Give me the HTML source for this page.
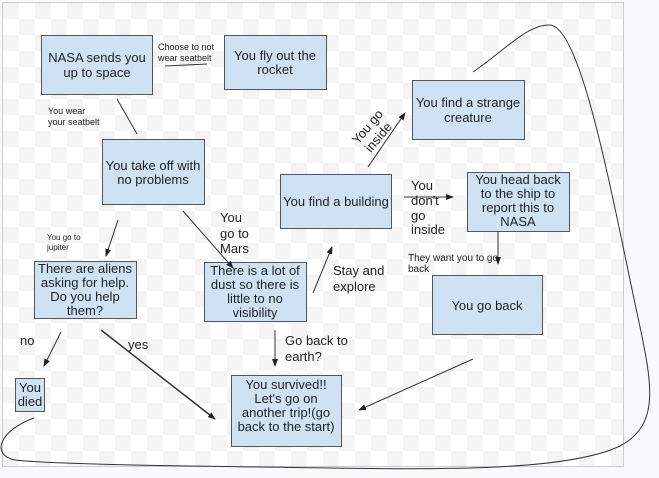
<!DOCTYPE html>
<html><head><meta charset="utf-8"><style>
html,body{margin:0;padding:0;background:#f8f9fa;}
svg{display:block;}
text{font-family:"Liberation Sans",sans-serif;fill:#222;}
</style></head><body>
<svg width="659" height="478" viewBox="0 0 659 478" xmlns="http://www.w3.org/2000/svg">
<defs>
<pattern id="ck" x="3" y="3" width="32" height="32" patternUnits="userSpaceOnUse">
<rect width="32" height="32" fill="#fff"/>
<rect width="16" height="16" fill="#f4f4f4"/>
<rect x="16" y="16" width="16" height="16" fill="#f4f4f4"/>
</pattern>
<marker id="a" markerWidth="8" markerHeight="8" refX="7" refY="4" orient="auto" markerUnits="userSpaceOnUse">
<path d="M0,1 L8,4 L0,7 Z" fill="#222"/>
</marker>
</defs>
<rect x="0" y="0" width="659" height="478" fill="#f8f9fa"/>
<rect x="2.5" y="2.5" width="621" height="464" fill="url(#ck)" stroke="#ccc"/>

<g fill="#cfe2f3" stroke="#555" stroke-width="1">
<rect x="41.5" y="35.5" width="111" height="59"/>
<rect x="224.5" y="35.5" width="102" height="54"/>
<rect x="102.5" y="139.5" width="102" height="65"/>
<rect x="280.5" y="174.5" width="111" height="54"/>
<rect x="412.5" y="80.5" width="112" height="59"/>
<rect x="467.5" y="172.5" width="102" height="59"/>
<rect x="34.5" y="261.5" width="102" height="57"/>
<rect x="204.5" y="262.5" width="102" height="59"/>
<rect x="432.5" y="275.5" width="110" height="59"/>
<rect x="15.5" y="378.5" width="29" height="33"/>
<rect x="231.5" y="375.5" width="110" height="71"/>
</g>

<g stroke="#333" stroke-width="1" fill="none">
<line x1="165" y1="66" x2="207" y2="64"/>
<line x1="117" y1="99" x2="137" y2="134"/>
<line x1="118" y1="220" x2="106" y2="256" marker-end="url(#a)"/>
<line x1="183" y1="211" x2="233" y2="268" marker-end="url(#a)"/>
<line x1="313" y1="293" x2="332" y2="247" marker-end="url(#a)"/>
<line x1="275" y1="330" x2="275" y2="366" marker-end="url(#a)"/>
<line x1="61" y1="332" x2="44" y2="366" marker-end="url(#a)"/>
<line x1="101" y1="330" x2="215" y2="419" stroke-width="1.5" marker-end="url(#a)"/>
<line x1="473" y1="359" x2="359" y2="410" marker-end="url(#a)"/>
<line x1="498" y1="231" x2="498" y2="264" marker-end="url(#a)"/>
<line x1="368" y1="167" x2="405" y2="113" marker-end="url(#a)"/>
<line x1="404" y1="197" x2="453" y2="197" marker-end="url(#a)"/>
<path d="M473,72 C505,50 528,24 550,25 C578,27 605,160 628,270 C648,370 668,420 620,446 C570,470 450,470 330,468 C200,466 60,465 15,460 C-10,455 0,430 34,418"/>
</g>

<g font-size="13" text-anchor="middle">
<text x="97" y="62">NASA sends you</text><text x="97" y="77">up to space</text>
<text x="275" y="60">You fly out the</text><text x="275" y="74">rocket</text>
<text x="153" y="170">You take off with</text><text x="153" y="184">no problems</text>
<text x="336" y="206">You find a building</text>
<text x="468" y="107">You find a strange</text><text x="468" y="122">creature</text>
<text x="518" y="184">You head back</text><text x="518" y="198">to the ship to</text><text x="518" y="212">report this to</text><text x="518" y="226">NASA</text>
<text x="85" y="273">There are aliens</text><text x="85" y="287">asking for help.</text><text x="85" y="301">Do you help</text><text x="85" y="315">them?</text>
<text x="255" y="275">There is a lot of</text><text x="255" y="289">dust so there is</text><text x="255" y="303">little to no</text><text x="255" y="317">visibility</text>
<text x="487" y="310">You go back</text>
<text x="30" y="392">You</text><text x="30" y="406">died</text>
<text x="286" y="389">You survived!!</text><text x="286" y="403">Let's go on</text><text x="286" y="417">another trip!(go</text><text x="286" y="431">back to the start)</text>
</g>

<g font-size="9">
<text x="158" y="50">Choose to not</text><text x="158" y="61">wear seatbelt</text>
<text x="48" y="114">You wear</text><text x="48" y="125">your seatbelt</text>
<text x="47" y="240" font-size="8">You go to</text><text x="47" y="250" font-size="8">jupiter</text>
<text x="408" y="261" font-size="10">They want you to go</text><text x="408" y="272" font-size="10">back</text>
</g>
<g font-size="13">
<text x="220" y="222">You</text><text x="220" y="238">go to</text><text x="220" y="253">Mars</text>
<text x="411" y="190">You</text><text x="411" y="205">don't</text><text x="411" y="220">go</text><text x="411" y="234">inside</text>
<text x="333" y="275">Stay and</text><text x="333" y="291">explore</text>
<text x="285" y="345">Go back to</text><text x="285" y="361">earth?</text>
<text x="20" y="345">no</text>
<text x="128" y="349">yes</text>
<g transform="translate(358,145) rotate(-50)"><text x="0" y="0">You go</text><text x="2" y="15">inside</text></g>
</g>
</svg>
</body></html>
